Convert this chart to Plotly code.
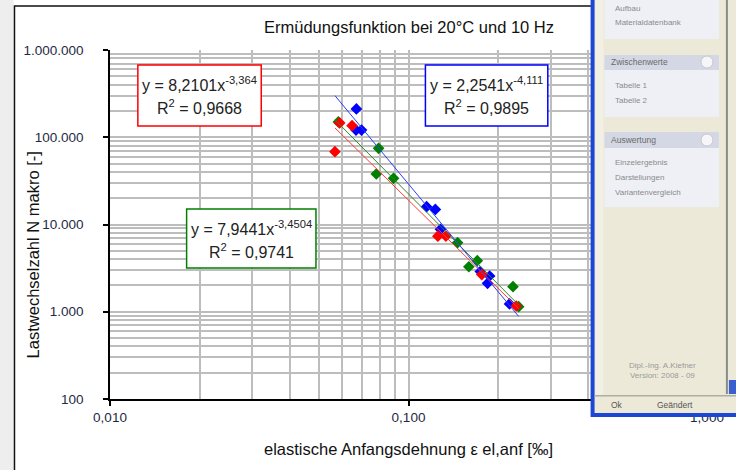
import plotly.graph_objects as go

# ---------------- data ----------------
blue_x = [0.0669, 0.0667, 0.0696, 0.115, 0.123, 0.128, 0.174, 0.187, 0.184, 0.218]
blue_y = [211000, 121000, 121000, 16000, 14900, 8810, 2890, 2570, 2120, 1230]
red_x = [0.0567, 0.0588, 0.0647, 0.1254, 0.1334, 0.176, 0.2296]
red_y = [68300, 146000, 135600, 7340, 7370, 2670, 1164]
green_x = [0.0582, 0.0794, 0.078, 0.0891, 0.146, 0.1593, 0.170, 0.2239, 0.2339]
green_y = [150000, 74700, 37900, 33800, 6190, 3280, 3850, 1940, 1142]

fit_a = {"blue": 2.2541, "red": 8.2101, "green": 7.9441}
fit_b = {"blue": -4.111, "red": -3.364, "green": -3.4504}
eq_text = {"red": ("8,2101", "-3,364", "0,9668"),
           "blue": ("2,2541", "-4,111", "0,9895"),
           "green": ("7,9441", "-3,4504", "0,9741")}

x_ticks = [0.01, 0.1, 1.0]
x_ticklabels = ["0,010", "0,100", "1,000"]
y_ticks = [100, 1000, 10000, 100000, 1000000]
y_ticklabels = ["100", "1.000", "10.000", "100.000", "1.000.000"]

title = "Ermüdungsfunktion bei 20°C und 10 Hz"
x_title = "elastische Anfangsdehnung ε el,anf [‰]"
y_title = "Lastwechselzahl N makro [-]"

panel_items = [("Aufbau", 8), ("Materialdatenbank", 23), ("Tabelle 1", 85), ("Tabelle 2", 100),
               ("Einzelergebnis", 162), ("Darstellungen", 177), ("Variantenvergleich", 192)]
panel_headers = [("Zwischenwerte", 62), ("Auswertung", 140)]

# ---------------- layout helpers (pixel -> paper) ----------------
L, R, T, B = 110, 26, 50, 71
W, H = 736, 470
PW, PH = W - L - R, H - T - B


def px(x):
    return (x - L) / PW


def py(y):
    return (H - B - y) / PH


FONT = "Liberation Sans, Arial, sans-serif"
colors = {"blue": "#0000ff", "red": "#ff0000", "green": "#008000"}
line_colors = {"blue": "#2b3cff", "red": "#ff3b3b", "green": "#2a8a2a"}

fig = go.Figure()

series = {"green": (green_x, green_y), "blue": (blue_x, blue_y), "red": (red_x, red_y)}
for name, (xs, ys) in series.items():
    fig.add_trace(go.Scatter(x=xs, y=ys, mode="markers",
                             marker=dict(symbol="diamond", size=9, color=colors[name],
                                         line=dict(width=0)),
                             showlegend=False))

all_x = blue_x + red_x + green_x
xmin, xmax = min(all_x), max(all_x)
for name in ["green", "red", "blue"]:
    xs = [xmin, xmax]
    ys = [fit_a[name] * v ** fit_b[name] for v in xs]
    fig.add_trace(go.Scatter(x=xs, y=ys, mode="lines",
                             line=dict(color=line_colors[name], width=1),
                             showlegend=False))

grid_c = "#bdbdbd"
x_minor = [m * 10 ** k for k in (-2, -1) for m in range(2, 10)]
y_minor = [m * 10 ** k for k in (2, 3, 4, 5) for m in range(2, 10)]

fig.update_xaxes(type="log", range=[-2, 0], tickvals=x_ticks, ticktext=x_ticklabels,
                 showgrid=True, gridcolor=grid_c, gridwidth=1.5,
                 minor=dict(tickvals=x_minor, showgrid=True, gridcolor=grid_c, gridwidth=1.5),
                 showline=True, linecolor="black", linewidth=1.5,
                 ticks="outside", ticklen=5, tickcolor="black", tickwidth=1.5,
                 zeroline=False, ticklabelstandoff=0,
                 tickfont=dict(family=FONT, size=13.5, color="#1f2a44"))
fig.update_yaxes(type="log", range=[2, 6], tickvals=y_ticks, ticktext=y_ticklabels,
                 showgrid=True, gridcolor=grid_c, gridwidth=1.5,
                 minor=dict(tickvals=y_minor, showgrid=True, gridcolor=grid_c, gridwidth=1.5),
                 showline=True, linecolor="black", linewidth=1.5,
                 ticks="outside", ticklen=5, tickcolor="black", tickwidth=1.5,
                 zeroline=False, ticklabelstandoff=17,
                 tickfont=dict(family=FONT, size=13.5, color="#1f2a44"))

shapes = []
annotations = []

# outer chart border and left strip
shapes.append(dict(type="rect", xref="paper", yref="paper", x0=px(-20), x1=px(13), y0=py(-10), y1=py(480),
                   fillcolor="#eeeeee", line=dict(width=0), layer="above"))
shapes.append(dict(type="rect", xref="paper", yref="paper", x0=px(14), x1=px(760), y0=py(6), y1=py(490),
                   line=dict(color="#111111", width=1.5), layer="above"))

# equation boxes
boxes = {"red": (138, 262, 65, 126), "blue": (427, 550, 65, 126), "green": (187, 317, 209, 268)}
for name, (x0, x1, y0, y1) in boxes.items():
    shapes.append(dict(type="rect", xref="paper", yref="paper", x0=px(x0), x1=px(x1), y0=py(y0), y1=py(y1),
                       fillcolor="white", line=dict(color=colors[name], width=1.5), layer="above"))
    a, b, r2 = eq_text[name]
    cx = (x0 + x1) / 2
    annotations.append(dict(xref="paper", yref="paper", x=px(cx), y=py(y0 + 19), xanchor="center",
                            yanchor="middle", showarrow=False,
                            text=f"y = {a}x<sup>{b}</sup>", font=dict(family=FONT, size=16, color="#222")))
    annotations.append(dict(xref="paper", yref="paper", x=px(cx), y=py(y0 + 42), xanchor="center",
                            yanchor="middle", showarrow=False,
                            text=f"R<sup>2</sup> = {r2}", font=dict(family=FONT, size=16, color="#222")))

# titles
annotations.append(dict(xref="paper", yref="paper", x=px(411), y=py(27), xanchor="center", yanchor="middle",
                        showarrow=False, text=title, font=dict(family=FONT, size=16.5, color="#111")))
annotations.append(dict(xref="paper", yref="paper", x=px(410), y=py(449), xanchor="center", yanchor="middle",
                        showarrow=False, text=x_title, font=dict(family=FONT, size=16.5, color="#111")))
annotations.append(dict(xref="paper", yref="paper", x=px(33), y=py(255), xanchor="center", yanchor="middle",
                        showarrow=False, text=y_title, textangle=-90,
                        font=dict(family=FONT, size=16.5, color="#111")))


# side panel (application window)
def rect(x0, x1, y0, y1, fill, lc=None, lw=0):
    shapes.append(dict(type="rect", xref="paper", yref="paper", x0=px(x0), x1=px(x1), y0=py(y0), y1=py(y1),
                       fillcolor=fill, line=dict(color=lc or fill, width=lw), layer="above"))


rect(593, 740, -5, 417, "#1c46d6")          # blue frame
rect(597, 740, -5, 413, "#ece9d8")          # beige body
rect(598, 606, -5, 395, "#f2f0e4")
rect(607, 722, -5, 39, "#eef0f6")
rect(607, 722, 55, 70, "#d4d8e4")
rect(607, 722, 70, 117, "#eef0f6")
rect(607, 722, 132, 148, "#d4d8e4")
rect(607, 722, 148, 207, "#eef0f6")
rect(729, 731, -5, 394, "#8a8a8a")
rect(732, 740, 380, 394, "#3a5fd0")
rect(597, 740, 395, 396.5, "#b0ae9f")
for y0, y1 in ((56, 68), (134, 146)):
    shapes.append(dict(type="circle", xref="paper", yref="paper", x0=px(704), x1=px(716), y0=py(y0), y1=py(y1),
                       fillcolor="#f6f6f8", line=dict(color="#c8c8d0", width=1), layer="above"))

for txt, yy in panel_items:
    annotations.append(dict(xref="paper", yref="paper", x=px(616), y=py(yy), xanchor="left", yanchor="middle",
                            showarrow=False, text=txt, font=dict(family=FONT, size=8, color="#8a8a8a")))
for txt, yy in panel_headers:
    annotations.append(dict(xref="paper", yref="paper", x=px(612), y=py(yy), xanchor="left", yanchor="middle",
                            showarrow=False, text=txt, font=dict(family=FONT, size=8.5, color="#6a6a6a")))
annotations.append(dict(xref="paper", yref="paper", x=px(665), y=py(370), xanchor="center", yanchor="middle",
                        showarrow=False, text="Dipl.-Ing. A.Kiefner<br>Version: 2008 - 09",
                        font=dict(family=FONT, size=8, color="#9a9a9a")))
annotations.append(dict(xref="paper", yref="paper", x=px(620), y=py(405), xanchor="center", yanchor="middle",
                        showarrow=False, text="Ok", font=dict(family=FONT, size=8.5, color="#555")))
annotations.append(dict(xref="paper", yref="paper", x=px(678), y=py(405), xanchor="center", yanchor="middle",
                        showarrow=False, text="Geändert", font=dict(family=FONT, size=8.5, color="#555")))

fig.update_layout(width=W, height=H, margin=dict(l=L, r=R, t=T, b=B, pad=0),
                  paper_bgcolor="white", plot_bgcolor="white",
                  shapes=shapes, annotations=annotations, showlegend=False)

fig.write_html("out.html")
